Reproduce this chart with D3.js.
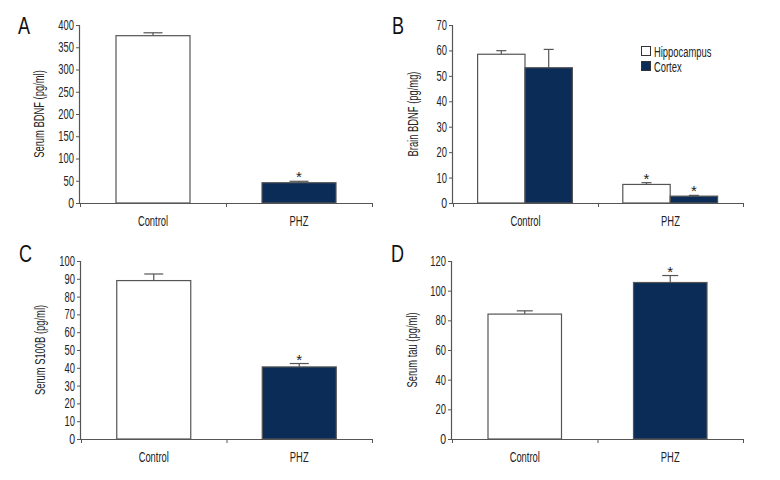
<!DOCTYPE html>
<html><head><meta charset="utf-8">
<script src="https://cdn.jsdelivr.net/npm/d3@7"></script>
<style>
body{margin:0;background:#fff;}
text{font-family:"Liberation Sans","Arial",sans-serif;}
</style></head><body>
<svg id="c" width="780" height="480"></svg>
<script>
const groups = ["Control", "PHZ"];
const seriesB = ["Hippocampus", "Cortex"];

const serumBDNF = [376, 45.6];
const serumBDNFErr = [6.5, 3.2];
const serumBDNFTicks = [0, 50, 100, 150, 200, 250, 300, 350, 400];

const hippoBDNF = [58.5, 7.3];
const hippoBDNFErr = [1.4, 0.7];
const cortexBDNF = [53.2, 2.7];
const cortexBDNFErr = [7.2, 0.3];
const brainBDNFTicks = [0, 10, 20, 30, 40, 50, 60, 70];

const serumS100B = [89.0, 40.5];
const serumS100BErr = [3.7, 1.9];
const serumS100BTicks = [0, 10, 20, 30, 40, 50, 60, 70, 80, 90, 100];

const serumTau = [84.2, 105.5];
const serumTauErr = [2.2, 4.7];
const serumTauTicks = [0, 20, 40, 60, 80, 100, 120];

const sigA = [false, true];
const sigB = [[false, false], [true, true]];
const sigC = [false, true];
const sigD = [false, true];

const NAVY = "#0b2c57";
const FS = 14;
const svg = d3.select("#c");

function panel(o) {
  const g = svg.append("g");
  const y = d3.scaleLinear().domain([0, o.ymax]).range([o.y0, o.y1]);
  const xl = d3.scaleLinear().domain([0, 2]).range([o.x0, o.x1]);
  const xb = d3.scaleBand().domain(groups).range([o.x0, o.x1]).paddingInner(0).paddingOuter(0);

  const ya = g.append("g").attr("transform", `translate(${o.x0},0)`)
    .call(d3.axisLeft(y).tickValues(o.ticks).tickSize(4).tickPadding(2));
  const xa = g.append("g").attr("transform", `translate(0,${o.y0})`)
    .call(d3.axisBottom(xl).tickValues([0, 1, 2]).tickFormat("").tickSize(4));
  [ya, xa].forEach(a => {
    a.select(".domain").attr("stroke", "#555").attr("stroke-width", 1.2);
    a.selectAll(".tick line").attr("stroke", "#555");
    a.selectAll("text").attr("font-size", FS).attr("fill", "#222").attr("font-family", null);
  });
  ya.select(".domain").attr("d", `M-0.5,${o.y0}V${o.y1}`);
  xa.select(".domain").attr("d", `M${o.x0},0.5H${o.x1}`);

  g.selectAll(".cat").data(groups).join("text")
    .attr("x", d => xb(d) + xb.bandwidth() / 2).attr("y", o.y0 + 23)
    .attr("text-anchor", "middle").attr("font-size", FS).attr("fill", "#222").text(d => d);

  g.append("text").attr("transform", `translate(${o.ylx},${(o.y0 + o.y1) / 2}) rotate(-90)`)
    .attr("text-anchor", "middle").attr("font-size", FS).attr("fill", "#222").text(o.ylabel);

  g.append("text").attr("x", o.lx).attr("y", o.ly).attr("font-size", 24).attr("fill", "#111").text(o.letter);

  const inner = d3.scaleBand().domain(d3.range(o.series.length)).range([0, o.barW * o.series.length]);
  o.series.forEach((s, si) => {
    groups.forEach((gname, gi) => {
      const cx = xb(gname) + xb.bandwidth() / 2 + o.offset[gi];
      const bx = cx - (o.barW * o.series.length) / 2 + inner(si);
      const v = s.values[gi], e = s.err[gi];
      const mid = bx + o.barW / 2;
      g.append("line").attr("x1", mid).attr("x2", mid).attr("y1", y(v)).attr("y2", y(v + e))
        .attr("stroke", "#555").attr("stroke-width", 1.2);
      g.append("line").attr("x1", mid - o.cap / 2).attr("x2", mid + o.cap / 2).attr("y1", y(v + e)).attr("y2", y(v + e))
        .attr("stroke", "#555").attr("stroke-width", 1.2);
      g.append("rect").attr("x", bx).attr("y", y(v)).attr("width", o.barW).attr("height", y(0) - y(v))
        .attr("fill", s.colors[gi]).attr("stroke", "#555").attr("stroke-width", 1.2);
      if (s.sig[gi]) {
        g.append("text").attr("x", mid).attr("y", y(v + e) + 1).attr("text-anchor", "middle")
          .attr("font-size", 15).attr("fill", "#222").text("*");
      }
    });
  });
  return g;
}

panel({letter: "A", lx: 18, ly: 34, x0: 80, x1: 372, y0: 203, y1: 25, ymax: 400, ticks: serumBDNFTicks,
  ylabel: "Serum BDNF (pg/ml)", ylx: 44, barW: 74, cap: 19, offset: [0, 0],
  series: [{values: serumBDNF, err: serumBDNFErr, colors: ["#fff", NAVY], sig: sigA}]});

const gB = panel({letter: "B", lx: 392, ly: 34, x0: 453, x1: 743, y0: 203, y1: 25, ymax: 70, ticks: brainBDNFTicks,
  ylabel: "Brain BDNF (pg/mg)", ylx: 418, barW: 47.4, cap: 10, offset: [-0.5, -0.3],
  series: [
    {values: hippoBDNF, err: hippoBDNFErr, colors: ["#fff", "#fff"], sig: sigB.map(d => d[0])},
    {values: cortexBDNF, err: cortexBDNFErr, colors: [NAVY, NAVY], sig: sigB.map(d => d[1])}
  ]});

const legColors = ["#fff", NAVY];
const leg = gB.append("g").attr("transform", "translate(641,46)");
seriesB.forEach((s, i) => {
  leg.append("rect").attr("x", 0.5).attr("y", i * 15 + 0.5).attr("width", 9).attr("height", 9)
    .attr("fill", legColors[i]).attr("stroke", "#333").attr("stroke-width", 1);
  leg.append("text").attr("x", 13).attr("y", i * 15 + 10.5).attr("font-size", FS).attr("fill", "#222").text(s);
});

panel({letter: "C", lx: 19, ly: 262, x0: 81, x1: 372, y0: 439, y1: 261, ymax: 100, ticks: serumS100BTicks,
  ylabel: "Serum S100B (pg/ml)", ylx: 45, barW: 74, cap: 19, offset: [0, 0],
  series: [{values: serumS100B, err: serumS100BErr, colors: ["#fff", NAVY], sig: sigC}]});

panel({letter: "D", lx: 391, ly: 262, x0: 452, x1: 743, y0: 439, y1: 261, ymax: 120, ticks: serumTauTicks,
  ylabel: "Serum tau (pg/ml)", ylx: 417, barW: 73.5, cap: 16, offset: [0, 0],
  series: [{values: serumTau, err: serumTauErr, colors: ["#fff", NAVY], sig: sigD}]});

// condense all text (the reference uses a condensed face)
svg.selectAll("text").each(function() {
  const t = this.textContent;
  if (!t || t === "*") return;
  const len = this.getComputedTextLength();
  const f = t.length === 1 ? 0.75 : 0.67;
  d3.select(this).attr("textLength", len * f).attr("lengthAdjust", "spacingAndGlyphs");
});
</script></body></html>
